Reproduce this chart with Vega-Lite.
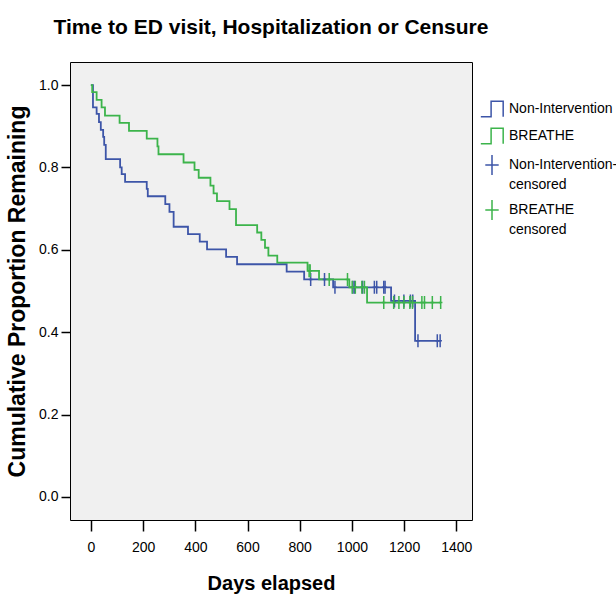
{
  "$schema": "https://vega.github.io/schema/vega-lite/v6.json",
  "width": 402,
  "height": 458,
  "autosize": "none",
  "padding": {"left": 70, "top": 62, "right": 144, "bottom": 75},
  "background": "white",
  "title": {
    "text": "Time to ED visit, Hospitalization or Censure",
    "font": "Liberation Sans",
    "fontSize": 21,
    "fontWeight": "bold",
    "color": "black",
    "anchor": "middle",
    "offset": 24
  },
  "config": {
    "view": {"fill": "#f0f0f0", "stroke": "black", "strokeWidth": 1},
    "axis": {
      "grid": false,
      "domain": false,
      "tickColor": "black",
      "tickWidth": 1.5,
      "tickSize": 11,
      "labelColor": "black",
      "labelFont": "Liberation Sans",
      "labelFontSize": 14,
      "titleColor": "black",
      "titleFontWeight": "bold"
    }
  },
  "datasets": {
    "curves": [
      {"series": "Non-Intervention", "day": 0, "s": 1.0},
      {"series": "Non-Intervention", "day": 8, "s": 0.946},
      {"series": "Non-Intervention", "day": 22, "s": 0.93},
      {"series": "Non-Intervention", "day": 31, "s": 0.91},
      {"series": "Non-Intervention", "day": 38, "s": 0.891},
      {"series": "Non-Intervention", "day": 47, "s": 0.874},
      {"series": "Non-Intervention", "day": 51, "s": 0.855},
      {"series": "Non-Intervention", "day": 57, "s": 0.82},
      {"series": "Non-Intervention", "day": 112, "s": 0.8},
      {"series": "Non-Intervention", "day": 118, "s": 0.784},
      {"series": "Non-Intervention", "day": 131, "s": 0.765},
      {"series": "Non-Intervention", "day": 214, "s": 0.748},
      {"series": "Non-Intervention", "day": 218, "s": 0.73},
      {"series": "Non-Intervention", "day": 285, "s": 0.711},
      {"series": "Non-Intervention", "day": 301, "s": 0.692},
      {"series": "Non-Intervention", "day": 317, "s": 0.656},
      {"series": "Non-Intervention", "day": 372, "s": 0.638},
      {"series": "Non-Intervention", "day": 417, "s": 0.62},
      {"series": "Non-Intervention", "day": 445, "s": 0.601},
      {"series": "Non-Intervention", "day": 518, "s": 0.583},
      {"series": "Non-Intervention", "day": 560, "s": 0.565},
      {"series": "Non-Intervention", "day": 750, "s": 0.547},
      {"series": "Non-Intervention", "day": 817, "s": 0.528},
      {"series": "Non-Intervention", "day": 928, "s": 0.509},
      {"series": "Non-Intervention", "day": 1150, "s": 0.476},
      {"series": "Non-Intervention", "day": 1242, "s": 0.379},
      {"series": "Non-Intervention", "day": 1338, "s": 0.379},
      {"series": "BREATHE", "day": 0, "s": 1.0},
      {"series": "BREATHE", "day": 5, "s": 0.983},
      {"series": "BREATHE", "day": 22, "s": 0.964},
      {"series": "BREATHE", "day": 41, "s": 0.946},
      {"series": "BREATHE", "day": 54, "s": 0.926},
      {"series": "BREATHE", "day": 110, "s": 0.908},
      {"series": "BREATHE", "day": 146, "s": 0.889},
      {"series": "BREATHE", "day": 214, "s": 0.87},
      {"series": "BREATHE", "day": 255, "s": 0.851},
      {"series": "BREATHE", "day": 259, "s": 0.832},
      {"series": "BREATHE", "day": 355, "s": 0.812},
      {"series": "BREATHE", "day": 397, "s": 0.794},
      {"series": "BREATHE", "day": 413, "s": 0.775},
      {"series": "BREATHE", "day": 458, "s": 0.756},
      {"series": "BREATHE", "day": 470, "s": 0.737},
      {"series": "BREATHE", "day": 483, "s": 0.718},
      {"series": "BREATHE", "day": 531, "s": 0.699},
      {"series": "BREATHE", "day": 556, "s": 0.66},
      {"series": "BREATHE", "day": 637, "s": 0.642},
      {"series": "BREATHE", "day": 653, "s": 0.624},
      {"series": "BREATHE", "day": 667, "s": 0.605},
      {"series": "BREATHE", "day": 680, "s": 0.586},
      {"series": "BREATHE", "day": 714, "s": 0.569},
      {"series": "BREATHE", "day": 830, "s": 0.549},
      {"series": "BREATHE", "day": 874, "s": 0.528},
      {"series": "BREATHE", "day": 990, "s": 0.509},
      {"series": "BREATHE", "day": 1058, "s": 0.472},
      {"series": "BREATHE", "day": 1340, "s": 0.472}
    ],
    "censored": [
      {"series": "Non-Intervention-censored", "day": 842, "s": 0.528},
      {"series": "Non-Intervention-censored", "day": 895, "s": 0.528},
      {"series": "Non-Intervention-censored", "day": 935, "s": 0.509},
      {"series": "Non-Intervention-censored", "day": 1004, "s": 0.509},
      {"series": "Non-Intervention-censored", "day": 1010, "s": 0.509},
      {"series": "Non-Intervention-censored", "day": 1041, "s": 0.509},
      {"series": "Non-Intervention-censored", "day": 1086, "s": 0.509},
      {"series": "Non-Intervention-censored", "day": 1095, "s": 0.509},
      {"series": "Non-Intervention-censored", "day": 1122, "s": 0.509},
      {"series": "Non-Intervention-censored", "day": 1127, "s": 0.509},
      {"series": "Non-Intervention-censored", "day": 1163, "s": 0.476},
      {"series": "Non-Intervention-censored", "day": 1199, "s": 0.476},
      {"series": "Non-Intervention-censored", "day": 1224, "s": 0.476},
      {"series": "Non-Intervention-censored", "day": 1233, "s": 0.476},
      {"series": "Non-Intervention-censored", "day": 1253, "s": 0.379},
      {"series": "Non-Intervention-censored", "day": 1327, "s": 0.379},
      {"series": "Non-Intervention-censored", "day": 1338, "s": 0.379},
      {"series": "BREATHE censored", "day": 836, "s": 0.549},
      {"series": "BREATHE censored", "day": 840, "s": 0.549},
      {"series": "BREATHE censored", "day": 913, "s": 0.528},
      {"series": "BREATHE censored", "day": 983, "s": 0.528},
      {"series": "BREATHE censored", "day": 1001, "s": 0.509},
      {"series": "BREATHE censored", "day": 1013, "s": 0.509},
      {"series": "BREATHE censored", "day": 1038, "s": 0.509},
      {"series": "BREATHE censored", "day": 1048, "s": 0.509},
      {"series": "BREATHE censored", "day": 1122, "s": 0.472},
      {"series": "BREATHE censored", "day": 1160, "s": 0.472},
      {"series": "BREATHE censored", "day": 1180, "s": 0.472},
      {"series": "BREATHE censored", "day": 1199, "s": 0.472},
      {"series": "BREATHE censored", "day": 1222, "s": 0.472},
      {"series": "BREATHE censored", "day": 1232, "s": 0.472},
      {"series": "BREATHE censored", "day": 1268, "s": 0.472},
      {"series": "BREATHE censored", "day": 1278, "s": 0.472},
      {"series": "BREATHE censored", "day": 1308, "s": 0.472},
      {"series": "BREATHE censored", "day": 1340, "s": 0.472}
    ]
  },
  "encoding": {
    "x": {
      "field": "day", "type": "quantitative",
      "scale": {"domain": [-80, 1460], "nice": false, "zero": false},
      "axis": {"values": [0, 200, 400, 600, 800, 1000, 1200, 1400], "format": "d", "title": "Days elapsed",
        "titleFont": "Liberation Sans", "titleFontSize": 20, "titlePadding": 19, "labelPadding": 9}
    },
    "y": {
      "field": "s", "type": "quantitative",
      "scale": {"domain": [-0.056, 1.056], "nice": false, "zero": false},
      "axis": {"values": [0, 0.2, 0.4, 0.6, 0.8, 1.0], "format": ".1f", "title": "Cumulative Proportion Remaining",
        "titleFont": "Liberation Sans", "titleFontSize": 23, "titlePadding": 9, "tickSize": 9, "labelPadding": 3}
    },
    "color": {
      "field": "series", "type": "nominal",
      "scale": {
        "domain": ["Non-Intervention", "BREATHE", "Non-Intervention-censored", "BREATHE censored"],
        "range": ["#3d55a8", "#3cb44b", "#3d55a8", "#3cb44b"]
      },
      "legend": {
        "title": null,
        "orient": "none",
        "legendX": 410,
        "legendY": 35,
        "labelFont": "Liberation Sans",
        "labelFontSize": 14,
        "labelColor": "black",
        "labelOffset": 5,
        "rowPadding": 4,
        "symbolSize": 500,
        "symbolStrokeWidth": 1.5,
        "labelExpr": "datum.label == 'Non-Intervention-censored' ? ['Non-Intervention-', 'censored'] : datum.label == 'BREATHE censored' ? ['BREATHE', 'censored'] : datum.label",
        "encode": {
          "labels": {"update": {"lineHeight": {"value": 20}}},
          "symbols": {
            "update": {
              "shape": {"signal": "indexof(datum.value, 'censored') >= 0 ? 'M-0.6,0H0.6M0,-0.9V0.9' : 'M-1,0.7H-0.08V-0.7H1V0.7'"},
              "fill": {"value": "transparent"},
              "stroke": {"scale": "color", "field": "value"},
              "strokeWidth": {"value": 1.5}
            }
          }
        }
      }
    }
  },
  "layer": [
    {
      "data": {"name": "curves"},
      "mark": {"type": "line", "interpolate": "step-after", "strokeWidth": 1.8}
    },
    {
      "data": {"name": "censored"},
      "mark": {"type": "point", "shape": "M-0.27,0H0.27M0,-1V1", "filled": false, "size": 169, "strokeWidth": 1.5, "opacity": 1}
    }
  ]
}
